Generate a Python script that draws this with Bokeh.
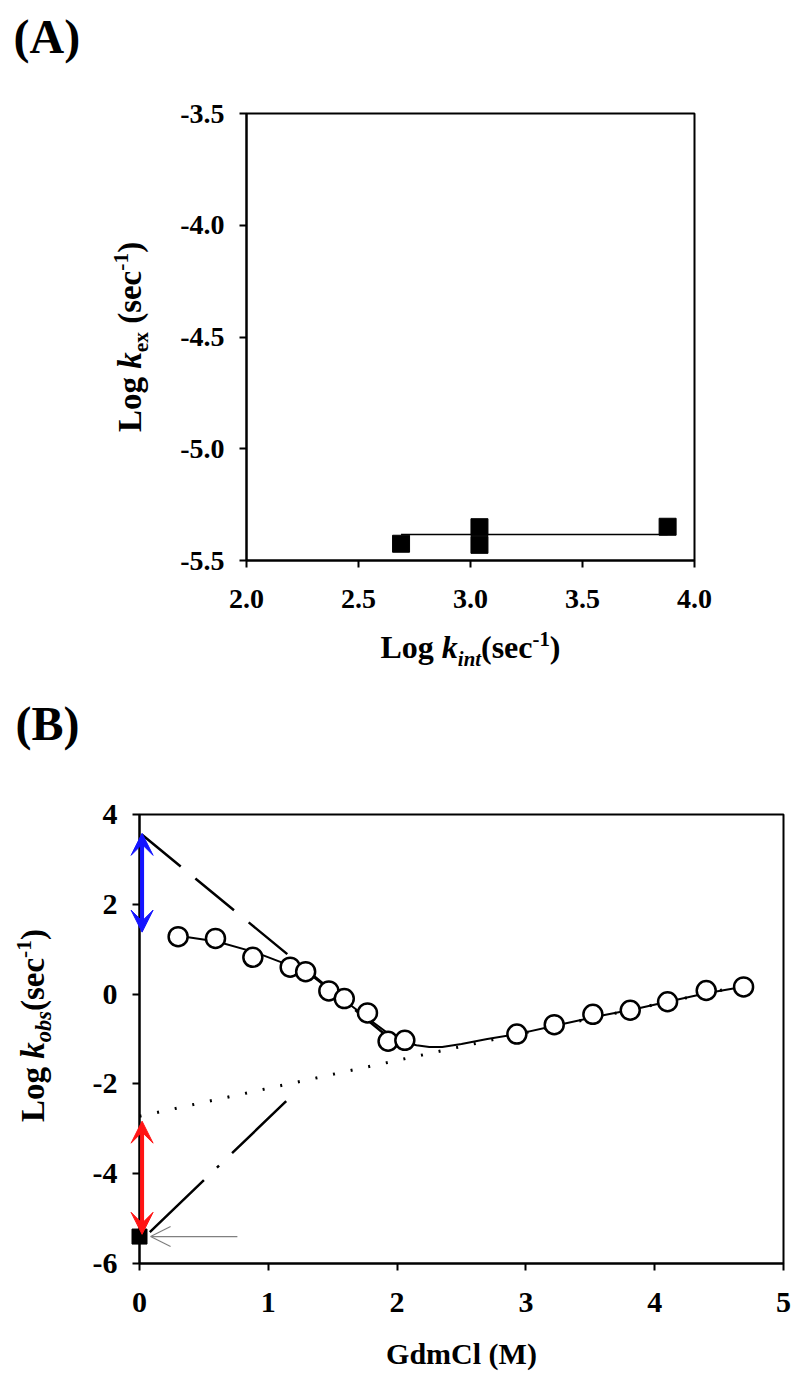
import math
from bokeh.plotting import figure
from bokeh.models import Arrow, OpenHead, FixedTicker
from bokeh.core.properties import value
from bokeh.embed import file_html
from bokeh.resources import INLINE

# ---------------- data ----------------
# Panel A
a_kint = [2.69, 3.04, 3.04, 3.88]
a_kex = [-5.425, -5.351, -5.43, -5.349]
a_fit_x = [2.69, 3.88]
a_fit_y = [-5.384, -5.384]
a_xticks = [2.0, 2.5, 3.0, 3.5, 4.0]
a_yticks = [-5.5, -5.0, -4.5, -4.0, -3.5]

# Panel B
b_gdm = [0.30, 0.59, 0.88, 1.17, 1.29, 1.47, 1.59, 1.77, 1.93, 2.06,
         2.93, 3.22, 3.52, 3.81, 4.10, 4.40, 4.69]
b_logk = [1.28, 1.24, 0.82, 0.60, 0.50, 0.07, -0.10, -0.42, -1.05, -1.03,
          -0.89, -0.68, -0.45, -0.36, -0.17, 0.08, 0.16]
b_fit_x = [0.30, 0.60, 0.90, 1.20, 1.35, 1.50, 1.65, 1.80, 1.95, 2.05, 2.15,
           2.25, 2.35, 2.50, 2.70, 2.95, 3.25, 3.55, 3.85, 4.10, 4.40, 4.70]
b_fit_y = [1.30, 1.17, 0.93, 0.60, 0.38, 0.05, -0.27, -0.60, -0.92, -1.06, -1.14,
           -1.18, -1.18, -1.11, -1.00, -0.88, -0.69, -0.50, -0.33, -0.17, 0.02, 0.17]
b_fold_x = [0.02, 1.97]          # long-dash extrapolation of folding limb
b_fold_y = [3.55, -1.05]
b_unf_x = [0.0, 4.70]            # dotted extrapolation of unfolding limb
b_unf_y = [-2.72, 0.20]
b_dd_x = [0.08, 1.17]            # dash-dot line
b_dd_y = [-5.30, -2.30]
b_native_x = [0.0]               # native-state exchange rate (square)
b_native_y = [-5.40]
b_blue = [0.02, 1.38, 3.58]      # x, y_low, y_high
b_red = [0.02, -5.35, -2.83]
b_grey = [0.76, 0.086, -5.40]    # x_start, x_end, y
b_xticks = [0, 1, 2, 3, 4, 5]
b_yticks = [-6, -4, -2, 0, 2, 4]

FONT = "Liberation Serif"
BASE_FIX = 0.35   # em; observed baseline displacement of text glyphs

# Times (bold / bold italic) advance widths, per 1000 em
WB = {' ': 250, '(': 333, ')': 333, '-': 333, '1': 500, 'L': 667, 'o': 500, 'g': 500,
      's': 389, 'e': 444, 'c': 444, 'x': 500, 'k': 556, 'i': 278, 'n': 556, 't': 333,
      'b': 556}
WBI = {'k': 500, 'i': 278, 'n': 556, 't': 278, 'o': 500, 'b': 500, 's': 389}


def text_w(t, italic, size):
    tab = WBI if italic else WB
    return sum(tab.get(c, 500) for c in t) / 1000.0 * size


def put_text(p, x, y, t, size, style, dx, dy, vertical=False):
    # dx, dy: screen pixels of the baseline start, dy positive = down
    if vertical:
        dx -= BASE_FIX * size
        ang = math.pi / 2
    else:
        dy -= BASE_FIX * size
        ang = 0.0
    p.text(x=[x], y=[y], text=[t], angle=ang, x_offset=dx, y_offset=dy,
           text_align="left", text_baseline="alphabetic",
           text_font=value(FONT), text_font_size=value(f"{size:.1f}px"),
           text_font_style=style, text_color="black", level="overlay")


def rich_label(p, x, y, pieces, size, dx0, dy0, vertical):
    """pieces: (text, italic, scale, shift_em); centred on (x, y)+offset."""
    widths = [text_w(t, it, size * sc) for t, it, sc, sh in pieces]
    pos = -sum(widths) / 2.0
    for (t, it, sc, sh), w in zip(pieces, widths):
        st = "bold italic" if it else "bold"
        body = t.lstrip(" ")
        lead = text_w(t[:len(t) - len(body)], it, size * sc)
        q = pos + lead
        if vertical:
            put_text(p, x, y, body, size * sc, st, dx0 - sh * size, dy0 - q, True)
        else:
            put_text(p, x, y, body, size * sc, st, dx0 + q, dy0 - sh * size)
        pos += w


def style(p, xticks, yticks, fsize, xfmt, yfmt):
    p.xgrid.visible = False
    p.ygrid.visible = False
    p.outline_line_color = "black"
    p.outline_line_width = 2
    p.background_fill_color = "white"
    p.border_fill_color = "white"
    p.xaxis.ticker = FixedTicker(ticks=xticks)
    p.yaxis.ticker = FixedTicker(ticks=yticks)
    p.xaxis.major_label_overrides = {v: xfmt.format(v) for v in xticks}
    p.yaxis.major_label_overrides = {v: yfmt.format(v) for v in yticks}
    for ax in (p.xaxis[0], p.yaxis[0]):
        ax.axis_line_width = 2
        ax.major_tick_line_width = 2
        ax.major_tick_out = 7
        ax.major_tick_in = 0
        ax.minor_tick_out = 0
        ax.minor_tick_in = 0
        ax.major_label_text_font = FONT
        ax.major_label_text_font_style = "bold"
        ax.major_label_text_font_size = fsize
        ax.major_label_text_color = "black"
    p.xaxis.major_label_standoff = 22
    p.yaxis.major_label_standoff = 15


# ---------------- Panel A ----------------
pA = figure(width=800, height=670, x_range=(2.0, 4.0), y_range=(-5.5, -3.5),
            output_backend="svg", toolbar_location=None,
            min_border_left=246, min_border_right=106, min_border_top=113,
            min_border_bottom=110)
style(pA, a_xticks, a_yticks, "28px", "{:.1f}", "{:.1f}")
pA.line(a_fit_x, a_fit_y, line_color="black", line_width=1.6)
pA.scatter(a_kint, a_kex, marker="square", size=17, fill_color="black", line_color="black")

rich_label(pA, 2.0, -4.5, [("Log ", False, 1, 0), ("k", True, 1, 0), ("ex", False, 0.65, -0.22),
                            (" (sec", False, 1, 0), ("-1", False, 0.65, 0.38), (")", False, 1, 0)],
           33, -105, 0, True)
rich_label(pA, 3.0, -5.5, [("Log ", False, 1, 0), ("k", True, 1, 0), ("int", True, 0.65, -0.22),
                            ("(sec", False, 1, 0), ("-1", False, 0.65, 0.38), (")", False, 1, 0)],
           32, 0, 98, False)
put_text(pA, 2.0, -3.5, "(A)", 48, "bold", -233, -60)

# ---------------- Panel B ----------------
pB = figure(width=800, height=715, x_range=(0, 5), y_range=(-6, 4),
            output_backend="svg", toolbar_location=None,
            min_border_left=139, min_border_right=17, min_border_top=144,
            min_border_bottom=122)
style(pB, b_xticks, b_yticks, "30px", "{}", "{}")
pB.xaxis.axis_label = "GdmCl (M)"
pB.xaxis.axis_label_text_font = FONT
pB.xaxis.axis_label_text_font_style = "bold"
pB.xaxis.axis_label_text_font_size = "30px"
pB.xaxis.axis_label_text_color = "black"
pB.xaxis.axis_label_standoff = 22

pB.line(b_unf_x, b_unf_y, line_color="black", line_width=3, line_dash="2 16")
pB.line(b_fold_x, b_fold_y, line_color="black", line_width=2.5, line_dash="50 19")
pB.line(b_dd_x, b_dd_y, line_color="black", line_width=2.5, line_dash="75 18 3 18")
pB.line(b_fit_x, b_fit_y, line_color="black", line_width=2)
pB.scatter(b_gdm, b_logk, marker="circle", size=19, fill_color="white",
           line_color="black", line_width=2.5)
pB.scatter(b_native_x, b_native_y, marker="square", size=15, fill_color="black",
           line_color="black", level="overlay")

pB.add_layout(Arrow(start=None, end=OpenHead(size=20, line_color="#808080", line_width=1.2),
                    x_start=b_grey[0], y_start=b_grey[2], x_end=b_grey[1], y_end=b_grey[2],
                    line_color="#808080", line_width=1.2))

# double-headed arrows at the y axis (drawn as overlay glyphs so they may cross the frame)
PPX = 644 / 5.0    # px per x unit
PPY = 449 / 10.0   # px per y unit
HW, HL = 11.0, 22.0


def double_arrow(p, spec, color):
    x, ylo, yhi = spec
    p.segment(x0=[x], y0=[ylo + 0.3 * HL / PPY], x1=[x], y1=[yhi - 0.3 * HL / PPY],
              line_color=color, line_width=4, level="overlay")
    hw, hl = HW / PPX, HL / PPY
    xs = [[x, x + hw, x, x - hw], [x, x + hw, x, x - hw]]
    ys = [[yhi, yhi - hl, yhi - hl / 2, yhi - hl], [ylo, ylo + hl, ylo + hl / 2, ylo + hl]]
    p.patches(xs, ys, fill_color=color, line_color=color, line_width=1, level="overlay")


double_arrow(pB, b_blue, "#1414ff")
double_arrow(pB, b_red, "#ff1414")

rich_label(pB, 0.0, -0.7, [("Log ", False, 1, 0), ("k", True, 1, 0), ("obs", True, 0.68, -0.22),
                            ("(sec", False, 1, 0), ("-1", False, 0.65, 0.38), (")", False, 1, 0)],
           33, -95, 0, True)
put_text(pB, 0.0, 4.0, "(B)", 48, "bold", -124, -74)

open("out.html", "w").write(file_html([pA, pB], INLINE))
